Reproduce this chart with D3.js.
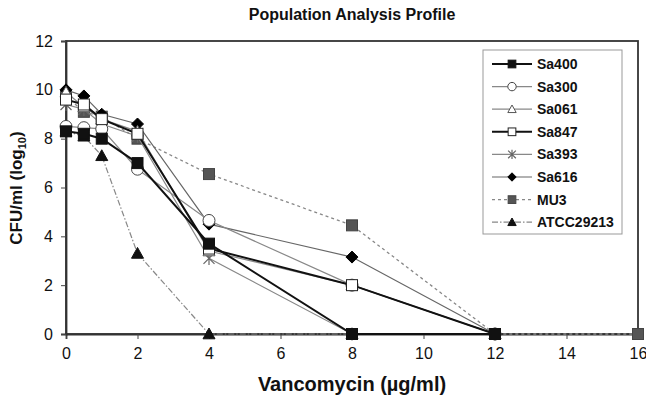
<!DOCTYPE html>
<html><head><meta charset="utf-8">
<script src="https://cdn.jsdelivr.net/npm/d3@7"></script>
<style>body{margin:0;background:#fff}svg{display:block}text{font-family:"Liberation Sans",Arial,sans-serif}</style>
</head><body><svg id="c" width="646" height="400"></svg>
<script>
const xConc = [0, 0.5, 1, 2, 4, 8, 12];
const xConcMU3 = [0, 0.5, 1, 2, 4, 8, 12, 16];
const seriesNames = ["Sa400","Sa300","Sa061","Sa847","Sa393","Sa616","MU3","ATCC29213"];
const Sa400 = [8.3, 8.2, 8.0, 7.0, 3.7, 0, 0];
const Sa300 = [8.5, 8.45, 8.4, 6.75, 4.65, 2.0, 0];
const Sa061 = [9.9, 9.3, 8.8, 8.3, 3.4, 2.0, 0];
const Sa847 = [9.6, 9.4, 8.8, 8.2, 3.5, 2.0, 0];
const Sa393 = [9.4, 9.2, 8.6, 8.1, 3.1, 0, 0];
const Sa616 = [10.0, 9.75, 9.0, 8.6, 4.5, 3.15, 0];
const MU3 = [9.75, 9.1, 8.9, 8.0, 6.55, 4.45, 0, 0];
const ATCC29213 = [8.3, 8.1, 7.3, 3.3, 0, 0, 0];
const xTicks = [0,2,4,6,8,10,12,14,16];
const yTicks = [0,2,4,6,8,10,12];

const styles = {
  Sa400:{stroke:"#111",sw:2,dash:null,marker:"square",fill:"#111",mstroke:"#111"},
  Sa300:{stroke:"#888",sw:1.2,dash:null,marker:"circle",fill:"#fff",mstroke:"#444"},
  Sa061:{stroke:"#888",sw:1.2,dash:null,marker:"triangle",fill:"#fff",mstroke:"#555"},
  Sa847:{stroke:"#111",sw:2,dash:null,marker:"square",fill:"#fff",mstroke:"#222"},
  Sa393:{stroke:"#888",sw:1.2,dash:null,marker:"star",fill:"none",mstroke:"#666"},
  Sa616:{stroke:"#666",sw:1.2,dash:null,marker:"diamond",fill:"#000",mstroke:"#000"},
  MU3:{stroke:"#888",sw:1.3,dash:"3,3",marker:"square",fill:"#555",mstroke:"#444"},
  ATCC29213:{stroke:"#888",sw:1.2,dash:"6,2,1.5,2",marker:"triangle",fill:"#111",mstroke:"#111"}
};
const dataMap = {Sa400,Sa300,Sa061,Sa847,Sa393,Sa616,MU3,ATCC29213};

const svg = d3.select("#c");
const x = d3.scaleLinear().domain([0,16]).range([66,638]);
const y = d3.scaleLinear().domain([0,12]).range([334,41]);

svg.append("rect").attr("x",66).attr("y",41).attr("width",572).attr("height",293)
  .attr("fill","none").attr("stroke","#333").attr("stroke-width",1.8);

const xa = svg.append("g").attr("transform","translate(0,334)")
  .call(d3.axisBottom(x).tickValues(xTicks).tickSize(5).tickPadding(9).tickFormat(d3.format("d")));
const ya = svg.append("g").attr("transform","translate(66,0)")
  .call(d3.axisLeft(y).tickValues(yTicks).tickSize(5).tickPadding(8).tickFormat(d3.format("d")));
[xa,ya].forEach(a=>{
  a.select(".domain").attr("stroke","#333").attr("stroke-width",1.8);
  a.selectAll(".tick line").attr("stroke","#444");
  a.selectAll("text").attr("font-size",16).attr("fill","#111").style("font-family","'Liberation Sans',Arial,sans-serif");
});

function drawMarker(g, type, cx, cy, st, s){
  s = s||1;
  if(type==="square"){
    g.append("rect").attr("x",cx-5.5*s).attr("y",cy-5.5*s).attr("width",11*s).attr("height",11*s)
      .attr("fill",st.fill).attr("stroke",st.mstroke).attr("stroke-width",1);
  } else if(type==="circle"){
    g.append("circle").attr("cx",cx).attr("cy",cy).attr("r",6*s).attr("fill",st.fill).attr("stroke",st.mstroke).attr("stroke-width",1);
  } else if(type==="triangle"){
    const h=6*s;
    g.append("path").attr("d",`M${cx},${cy-h}L${cx+h},${cy+h*0.8}L${cx-h},${cy+h*0.8}Z`)
      .attr("fill",st.fill).attr("stroke",st.mstroke).attr("stroke-width",1);
  } else if(type==="diamond"){
    const h=6*s;
    g.append("path").attr("d",`M${cx},${cy-h}L${cx+h},${cy}L${cx},${cy+h}L${cx-h},${cy}Z`)
      .attr("fill",st.fill).attr("stroke",st.mstroke).attr("stroke-width",1);
  } else if(type==="star"){
    const h=5.5*s;
    g.append("path").attr("d",`M${cx-h},${cy-h}L${cx+h},${cy+h}M${cx-h},${cy+h}L${cx+h},${cy-h}M${cx},${cy-h*1.2}L${cx},${cy+h*1.2}`)
      .attr("fill","none").attr("stroke",st.mstroke).attr("stroke-width",1.2);
  }
}

const line = d3.line().x(d=>x(d[0])).y(d=>y(d[1]));
const order = ["ATCC29213","MU3","Sa616","Sa393","Sa061","Sa300","Sa847","Sa400"];
order.forEach(name=>{
  const vals = dataMap[name];
  const xs = name==="MU3"? xConcMU3 : xConc;
  const pts = vals.map((v,i)=>[xs[i],v]);
  const st = styles[name];
  const g = svg.append("g");
  g.append("path").attr("d",line(pts)).attr("fill","none").attr("stroke",st.stroke)
    .attr("stroke-width",st.sw).attr("stroke-dasharray",st.dash);
  pts.forEach(p=>drawMarker(g, st.marker, x(p[0]), y(p[1]), st));
});

const lg = svg.append("g");
lg.append("rect").attr("x",483).attr("y",50).attr("width",139).attr("height",184)
  .attr("fill","#fff").attr("stroke","#999").attr("stroke-width",1);
seriesNames.forEach((name,i)=>{
  const st = styles[name];
  const ly = 64 + i*22.6;
  lg.append("line").attr("x1",492).attr("x2",532).attr("y1",ly).attr("y2",ly)
    .attr("stroke",st.stroke).attr("stroke-width",st.sw).attr("stroke-dasharray",st.dash);
  drawMarker(lg, st.marker, 512, ly, st, 0.7);
  lg.append("text").attr("x",537).attr("y",ly+5).attr("font-size",14).attr("font-weight","bold").attr("fill","#111").text(name);
});

svg.append("text").attr("x",352).attr("y",20).attr("text-anchor","middle")
  .attr("font-size",16).attr("font-weight","bold").attr("fill","#111").text("Population Analysis Profile");
svg.append("text").attr("x",352).attr("y",391).attr("text-anchor","middle")
  .attr("font-size",20).attr("font-weight","bold").attr("fill","#111").text("Vancomycin (µg/ml)");
const yl = svg.append("text").attr("transform","translate(22,188) rotate(-90)").attr("text-anchor","middle")
  .attr("font-size",17).attr("font-weight","bold").attr("fill","#111");
yl.append("tspan").text("CFU/ml (log");
yl.append("tspan").attr("font-size",11).attr("dy",4).text("10");
yl.append("tspan").attr("dy",-4).text(")");
</script></body></html>
